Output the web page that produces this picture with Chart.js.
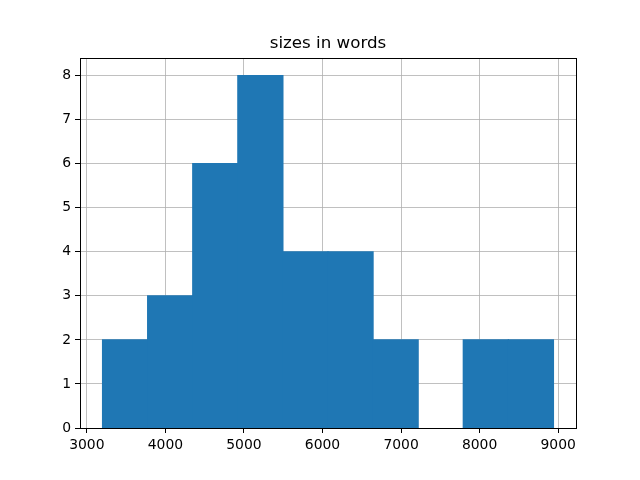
<!DOCTYPE html>
<html>
<head>
<meta charset="utf-8">
<script src="https://cdn.jsdelivr.net/npm/chart.js@4/dist/chart.umd.min.js"></script>
<style>
    html, body { margin: 0; padding: 0; background: #ffffff; }
    canvas { display: block; }
</style>
</head>
<body>
<canvas id="histChart" width="640" height="480"></canvas>
<script>
// histogram of sizes in words (10 bins)
const binEdges = [3200, 3774, 4348, 4922, 5496, 6070, 6644, 7218, 7792, 8366, 8940];
const counts = [2, 3, 6, 8, 4, 4, 2, 0, 2, 2];
const xTicks = [3000, 4000, 5000, 6000, 7000, 8000, 9000];
const yTicks = [0, 1, 2, 3, 4, 5, 6, 7, 8];

// bar centres from the bin edges
const bars = counts.map((c, i) => ({ x: (binEdges[i] + binEdges[i + 1]) / 2, y: c }));

const FONT = 'DejaVu Sans';

// matplotlib style full box round the axes
const boxPlugin = {
    id: 'box',
    afterDraw(chart) {
        const { ctx, chartArea: a } = chart;
        ctx.save();
        ctx.strokeStyle = '#000000';
        ctx.lineWidth = 1;
        ctx.strokeRect(Math.round(a.left) + 0.5, Math.round(a.top) + 0.5,
            Math.round(a.right - a.left), Math.round(a.bottom - a.top));
        ctx.restore();
    }
};

new Chart(document.getElementById('histChart').getContext('2d'), {
    type: 'bar',
    data: {
        datasets: [{
            data: bars,
            backgroundColor: '#1f77b4',
            borderWidth: 0,
            barPercentage: 1,
            categoryPercentage: 1,
            // small overlap hides seams, empty bins stay empty
            inflateAmount: c => (c.raw && c.raw.y > 0 ? 0.6 : 0)
        }]
    },
    options: {
        responsive: false,
        animation: false,
        layout: { padding: { left: 0, right: 64, top: 0, bottom: 0 } },
        scales: {
            x: {
                type: 'linear',
                min: 2913,
                max: 9227,
                offset: false,
                z: 1,
                afterBuildTicks: s => { s.ticks = xTicks.map(v => ({ value: v })); },
                afterFit: s => { s.height = 52; },
                grid: { offset: false, color: '#b0b0b0', lineWidth: 0.8, tickColor: '#000000', tickLength: 5, tickWidth: 1 },
                border: { display: false },
                ticks: {
                    autoSkip: false,
                    maxRotation: 0,
                    padding: 4,
                    color: '#000000',
                    font: { family: FONT, size: 13.9 },
                    callback: v => String(v)
                }
            },
            y: {
                type: 'linear',
                min: 0,
                max: 8.4,
                z: 1,
                afterBuildTicks: s => { s.ticks = yTicks.map(v => ({ value: v })); },
                afterFit: s => { s.width = 80; },
                grid: { color: '#b0b0b0', lineWidth: 0.8, tickColor: '#000000', tickLength: 5, tickWidth: 1 },
                border: { display: false },
                ticks: {
                    padding: 4,
                    color: '#000000',
                    font: { family: FONT, size: 13.9 },
                    callback: v => String(v)
                }
            }
        },
        plugins: {
            legend: { display: false },
            tooltip: { enabled: false },
            title: {
                display: true,
                text: 'sizes in words',
                fullSize: false,
                color: '#000000',
                font: { family: FONT, size: 16.7, weight: 'normal', lineHeight: 1.2 },
                padding: { top: 34, bottom: 3.96 }
            }
        }
    },
    plugins: [boxPlugin]
});
</script>
</body>
</html>
